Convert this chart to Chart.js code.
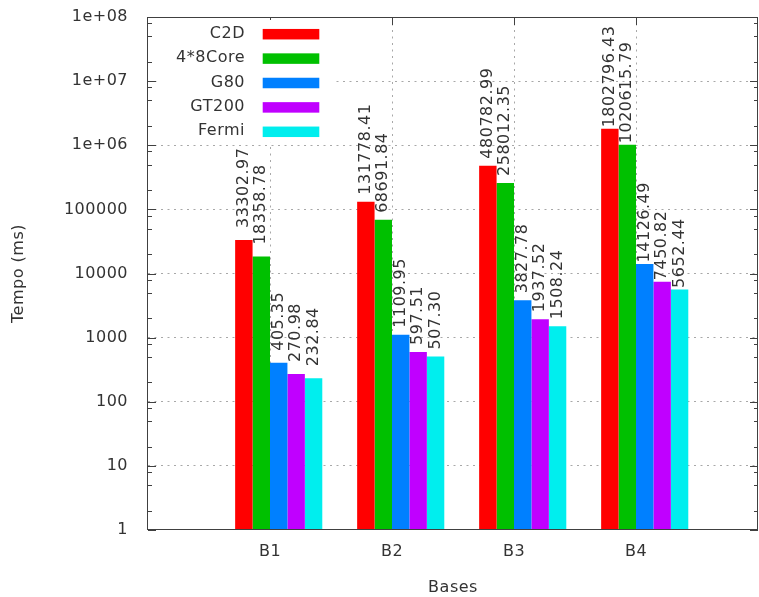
<!DOCTYPE html>
<html>
<head>
<meta charset="utf-8">
<script src="https://cdn.jsdelivr.net/npm/chart.js@4/dist/chart.umd.min.js"></script>
<style>
  html, body { margin: 0; padding: 0; background: #ffffff; }
  canvas { display: block; }
</style>
</head>
<body>
<canvas id="chart" width="759" height="597"></canvas>
<script>
// Execution time per database (ms), log scale
const categories = ['B1', 'B2', 'B3', 'B4'];
const seriesNames = ['C2D', '4*8Core', 'G80', 'GT200', 'Fermi'];
const c2d      = [33302.97, 131778.41, 480782.99, 1802796.43];
const core4x8  = [18358.78, 68691.84, 258012.35, 1020615.79];
const g80      = [405.35, 1109.95, 3827.78, 14126.49];
const gt200    = [270.98, 597.51, 1937.52, 7450.82];
const fermi    = [232.84, 507.30, 1508.24, 5652.44];
const seriesValues = [c2d, core4x8, g80, gt200, fermi];
const seriesColors = ['#ff0000', '#00c000', '#0080ff', '#c000ff', '#00eeee'];
const yDecades = [1, 10, 100, 1000, 10000, 100000, 1000000, 10000000, 100000000];
// distance (px) between a bar top and the start of its value label, per cluster
const labelGap = [12, 7, 7, 1.5];

const FONT = 'DejaVu Sans';
const TEXT = '#333333';
const FRAME = '#404040';
const GRID = '#a8a8a8';
const nSeries = seriesValues.length;
// each cluster is nSeries bars plus a two-bar gap; the cluster sits half a bar right of its tic
const clusterShift = 1 / (2 * (nSeries + 2));

const datasets = seriesValues.map((vals, s) => ({
  label: seriesNames[s],
  data: vals.map((v, i) => ({ x: i + 1, y: v })),
  backgroundColor: seriesColors[s],
  borderWidth: 0,
  barPercentage: 1.0,
  categoryPercentage: nSeries / (nSeries + 2),
  xAxisID: 'x',
  yAxisID: 'y'
}));

function yLabel(v) {
  if (v >= 1e6) {
    const e = Math.round(Math.log10(v));
    return '1e+' + String(e).padStart(2, '0');
  }
  return String(v);
}

// letter spacing for all canvas text
const spacingPlugin = {
  id: 'spacing',
  beforeDraw(chart) { chart.ctx.letterSpacing = '0.5px'; }
};

// white key box with right-aligned names and colour swatches, plus inward tic marks
const keyPlugin = {
  id: 'key',
  beforeDatasetsDraw(chart) {
    const ctx = chart.ctx;
    const area = chart.chartArea;
    const y = chart.scales.y;
    const xt = chart.scales.xt;
    ctx.save();
    ctx.letterSpacing = '0.5px';
    // tic marks on both vertical borders
    ctx.strokeStyle = FRAME;
    ctx.lineWidth = 1;
    ctx.beginPath();
    for (let k = 0; k < yDecades.length; k++) {
      const d = yDecades[k];
      const py = Math.round(y.getPixelForValue(d)) + 0.5;
      ctx.moveTo(area.left, py); ctx.lineTo(area.left + 8, py);
      ctx.moveTo(area.right, py); ctx.lineTo(area.right - 8, py);
      if (k < yDecades.length - 1) {
        [2, 5, 8].forEach(m => {
          const pm = Math.round(y.getPixelForValue(d * m)) + 0.5;
          ctx.moveTo(area.left, pm); ctx.lineTo(area.left + 4, pm);
          ctx.moveTo(area.right, pm); ctx.lineTo(area.right - 4, pm);
        });
      }
    }
    categories.forEach((c, i) => {
      const px = Math.round(xt.getPixelForValue(i + 1)) + 0.5;
      ctx.moveTo(px, area.bottom); ctx.lineTo(px, area.bottom - 8);
      ctx.moveTo(px, area.top); ctx.lineTo(px, area.top + 8);
    });
    ctx.stroke();

    // key
    const rowH = 24.4;
    const firstRow = area.top + 17.2;
    const textRight = area.left + 97;
    const swLeft = area.left + 114.7;
    const swW = 56.6, swH = 10.5;
    ctx.fillStyle = '#ffffff';
    ctx.fillRect(area.left + 9, area.top + 3, 176, firstRow + rowH * (nSeries - 1) + 11 - area.top - 3);
    ctx.font = '16px "' + FONT + '"';
    ctx.textAlign = 'right';
    ctx.textBaseline = 'middle';
    chart.data.datasets.forEach((ds, s) => {
      const cy = firstRow + s * rowH;
      ctx.fillStyle = TEXT;
      ctx.fillText(ds.label, textRight, cy - 0.5);
      ctx.fillStyle = ds.backgroundColor;
      ctx.fillRect(swLeft, cy - swH / 2, swW, swH);
    });
    ctx.restore();
  },
  afterDatasetsDraw(chart) {
    const ctx = chart.ctx;
    const area = chart.chartArea;
    ctx.save();
    ctx.letterSpacing = '0.5px';
    // value labels, rotated, starting just above each bar
    ctx.font = '16px "' + FONT + '"';
    ctx.fillStyle = TEXT;
    ctx.textAlign = 'left';
    ctx.textBaseline = 'middle';
    chart.data.datasets.forEach((ds, s) => {
      const meta = chart.getDatasetMeta(s);
      meta.data.forEach((bar, i) => {
        const v = seriesValues[s][i];
        ctx.save();
        ctx.translate(bar.x, bar.y - labelGap[i]);
        ctx.rotate(-Math.PI / 2);
        ctx.fillText(v.toFixed(2), 0, 0);
        ctx.restore();
      });
    });
    // border
    ctx.strokeStyle = FRAME;
    ctx.lineWidth = 1;
    ctx.strokeRect(area.left - 0.5, area.top + 0.5, area.right - area.left, area.bottom - area.top - 1);
    ctx.restore();
  }
};

new Chart(document.getElementById('chart'), {
  type: 'bar',
  data: { datasets },
  options: {
    responsive: false,
    animation: false,
    devicePixelRatio: 1,
    layout: { padding: { top: 17, right: 1, left: 0, bottom: 0 } },
    plugins: {
      legend: { display: false },
      tooltip: { enabled: false }
    },
    scales: {
      x: {
        type: 'linear',
        display: false,
        offset: false,
        min: -clusterShift,
        max: categories.length + 1 - clusterShift,
        afterBuildTicks(scale) { scale.ticks = categories.map((c, i) => ({ value: i + 1 })); }
      },
      xt: {
        type: 'linear',
        position: 'bottom',
        offset: false,
        min: 0,
        max: categories.length + 1,
        afterBuildTicks(scale) { scale.ticks = categories.map((c, i) => ({ value: i + 1 })); },
        afterFit(scale) {
          scale.height = 67;
          scale.paddingLeft = 0; scale.paddingRight = 0;
          scale.paddingTop = 0; scale.paddingBottom = 0;
        },
        ticks: {
          autoSkip: false,
          maxRotation: 0,
          padding: 12,
          color: TEXT,
          font: { family: FONT, size: 16 },
          callback: (v) => categories[Math.round(v) - 1] || ''
        },
        grid: { color: GRID, lineWidth: 1, drawTicks: false, offset: false },
        border: { display: false, dash: [2, 4.5] },
        title: {
          display: true,
          text: 'Bases',
          color: TEXT,
          font: { family: FONT, size: 16 },
          padding: { top: 0, bottom: 0 }
        }
      },
      y: {
        type: 'logarithmic',
        position: 'left',
        min: 1,
        max: 1e8,
        afterBuildTicks(scale) { scale.ticks = yDecades.map(v => ({ value: v })); },
        afterFit(scale) {
          scale.width = 148;
          scale.paddingTop = 0; scale.paddingBottom = 0;
          scale.paddingLeft = 0; scale.paddingRight = 0;
        },
        ticks: {
          padding: 20,
          color: TEXT,
          font: { family: FONT, size: 16 },
          callback: (v) => yLabel(v)
        },
        grid: {
          drawTicks: false,
          lineWidth: 1,
          color: (c) => (c.tick && (c.tick.value === 1 || c.tick.value === 1e8)) ? 'rgba(0,0,0,0)' : GRID
        },
        border: { display: false, dash: [2, 4.5] },
        title: {
          display: true,
          text: 'Tempo (ms)',
          color: TEXT,
          font: { family: FONT, size: 16 },
          padding: { top: 9, bottom: 0 }
        }
      }
    }
  },
  plugins: [spacingPlugin, keyPlugin]
});
</script>
</body>
</html>
